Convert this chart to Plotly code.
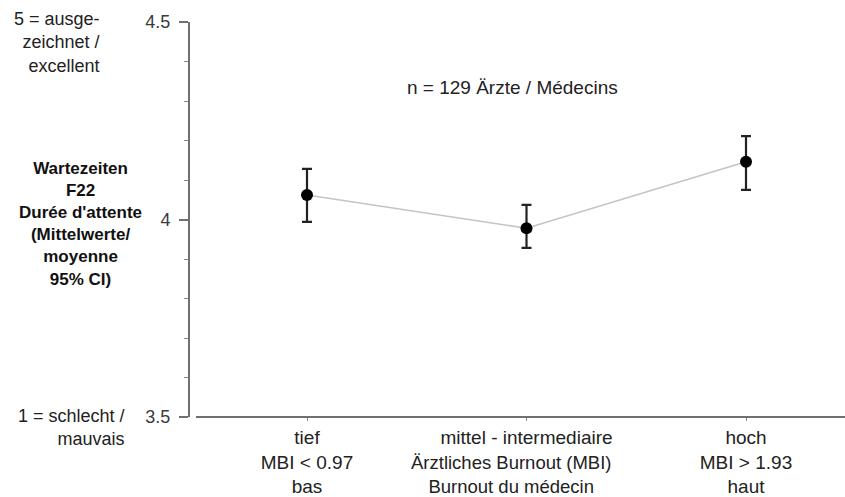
import plotly.graph_objects as go

# Mean rating of waiting time (F22) per physician burnout group, with 95% CI
groups = ["tief<br>MBI < 0.97<br>bas", "mittel - intermediaire", "hoch<br>MBI > 1.93<br>haut"]
group_pos = [1, 2, 3]
means = [4.062, 3.978, 4.146]
ci_upper = [4.128, 4.037, 4.211]
ci_lower = [3.994, 3.928, 4.075]

y_ticks = [3.5, 4.0, 4.5]
y_tick_labels = ["3.5", "4", "4.5"]

err_plus = [u - m for u, m in zip(ci_upper, means)]
err_minus = [m - l for m, l in zip(means, ci_lower)]

W, H = 845, 497
ML, MR, MT, MB = 190, 0, 22, 80
PW = W - ML - MR
PH = H - MT - MB


def px_x(px):
    return (px - ML) / PW


def px_y(py):
    return (H - MB - py) / PH


FONT = "Liberation Sans, Arial, Helvetica, sans-serif"

fig = go.Figure()

# connecting line
fig.add_trace(go.Scatter(
    x=group_pos, y=means, mode="lines",
    line=dict(color="#c4c4c4", width=1.6),
    hoverinfo="skip", showlegend=False,
))

# means with confidence intervals
fig.add_trace(go.Scatter(
    x=group_pos, y=means, mode="markers",
    marker=dict(color="black", size=12),
    error_y=dict(type="data", symmetric=False, array=err_plus, arrayminus=err_minus,
                 color="#222222", thickness=2.2, width=5),
    showlegend=False,
))

fig.update_layout(
    width=W, height=H,
    margin=dict(l=ML, r=MR, t=MT, b=MB, pad=0),
    paper_bgcolor="white", plot_bgcolor="white",
    font=dict(family=FONT, size=19, color="#222222"),
    xaxis=dict(
        range=[0.467, 3.451],
        tickvals=group_pos, ticktext=groups,
        ticks="outside", ticklen=3, tickwidth=1, tickcolor="#888888",
        showline=False, showgrid=False, zeroline=False,
        tickfont=dict(size=19, color="#222222"),
    ),
    yaxis=dict(
        range=[3.5, 4.5],
        tickvals=y_ticks, ticktext=y_tick_labels,
        ticks="outside", ticklen=9, tickwidth=1.5, tickcolor="#707070",
        ticklabelstandoff=5,
        showline=True, linecolor="#707070", linewidth=2,
        showgrid=False, zeroline=False,
        tickfont=dict(size=18, color="#3a3a3a"),
        minor=dict(dtick=0.1, ticks="outside", ticklen=4, tickwidth=1, tickcolor="#888888"),
    ),
)

# x axis baseline, offset slightly from the y axis
fig.add_shape(type="line", xref="paper", yref="paper",
              x0=px_x(196), x1=1, y0=0, y1=0,
              line=dict(color="#707070", width=2))

annotations = [
    dict(text="n = 129 Ärzte / Médecins", x=px_x(512), y=px_y(87),
         xanchor="center", yanchor="middle", font=dict(size=19)),
    dict(text="5 = ausge-<br>zeichnet /<br>excellent", x=px_x(102), y=px_y(42),
         xanchor="right", yanchor="middle", align="right", font=dict(size=18)),
    dict(text="<b>Wartezeiten<br>F22<br>Durée d'attente<br>(Mittelwerte/<br>moyenne<br>95% CI)</b>",
         x=px_x(80), y=px_y(224), xanchor="center", yanchor="middle", align="center",
         font=dict(size=17, color="#111111")),
    dict(text="1 = schlecht /<br>mauvais", x=px_x(127), y=px_y(428),
         xanchor="right", yanchor="middle", align="right", font=dict(size=18)),
    dict(text="Ärztliches Burnout (MBI)<br>Burnout du médecin", x=px_x(511), y=px_y(475),
         xanchor="center", yanchor="middle", align="center", font=dict(size=18.5),
         bgcolor="white", borderpad=0),
]
for a in annotations:
    fig.add_annotation(xref="paper", yref="paper", showarrow=False, **a)

fig.write_html("out.html")
